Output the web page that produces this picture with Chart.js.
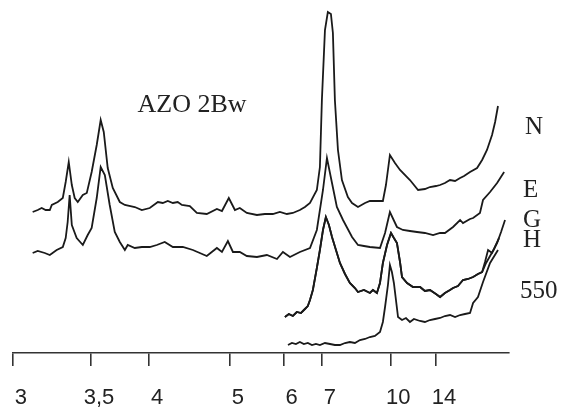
<!DOCTYPE html>
<html>
<head>
<meta charset="utf-8">
<title>AZO 2Bw</title>
<script src="https://cdn.jsdelivr.net/npm/chart.js@4/dist/chart.umd.min.js"></script>
<style>
  html, body { margin: 0; padding: 0; background: #fff; }
  #wrap { width: 562px; height: 416px; position: relative; }
</style>
</head>
<body>
<div id="wrap"><canvas id="xrd"></canvas></div>
<script>
// sample + trace names (right hand labels)
const sampleName = "AZO 2Bw";
const seriesNames = ["N", "E", "G", "H", "550"];

// d-spacing ticks (Angstrom) shown under the axis, Cu K-alpha
const dTicks = [3, 3.5, 4, 5, 6, 7, 10, 14];
const dLabels = ["3", "3,5", "4", "5", "6", "7", "10", "14"];
const wavelength = 1.5406;

// traces: [2theta, counts] (offset, stacked)
const traceN = [
  [28.66, 141], [28.38, 143], [28.16, 145], [27.94, 143], [27.71, 143], [27.60, 148], [27.27, 151],
  [26.99, 155], [26.83, 171], [26.66, 191], [26.49, 168], [26.33, 155], [26.16, 151], [25.88, 158],
  [25.66, 160], [25.39, 181], [25.11, 208], [24.89, 233], [24.72, 221], [24.50, 185], [24.22, 165],
  [23.83, 151], [23.55, 148], [23.00, 146], [22.61, 143], [22.17, 145], [21.72, 151], [21.45, 150],
  [21.17, 152], [20.89, 150], [20.62, 151], [20.39, 148], [19.95, 147], [19.56, 140], [19.01, 139],
  [18.45, 144], [18.17, 142], [17.79, 155], [17.45, 143], [17.18, 145], [16.79, 140], [16.23, 138],
  [15.79, 139], [15.35, 139], [14.96, 141], [14.57, 139], [14.24, 140], [13.85, 143], [13.57, 146],
  [13.29, 150], [12.91, 163], [12.74, 186], [12.63, 253], [12.46, 323], [12.30, 341], [12.13, 339],
  [12.02, 320], [11.91, 253], [11.74, 203], [11.52, 173], [11.19, 156], [10.96, 150], [10.63, 146],
  [10.24, 150], [9.97, 152], [9.52, 152], [9.25, 152], [9.08, 168], [8.86, 198], [8.58, 190],
  [8.30, 183], [7.75, 173], [7.30, 163], [6.92, 164], [6.64, 166], [6.31, 167], [6.08, 168],
  [5.81, 170], [5.53, 173], [5.25, 172], [4.97, 175], [4.75, 177], [4.42, 181], [4.03, 185],
  [3.75, 193], [3.48, 203], [3.20, 218], [3.03, 231], [2.87, 247]
];
const traceE = [
  [28.66, 100], [28.38, 102], [27.99, 100], [27.71, 98], [27.33, 103], [26.99, 106], [26.83, 115],
  [26.72, 131], [26.61, 158], [26.49, 128], [26.22, 115], [25.88, 108], [25.61, 118], [25.39, 125],
  [25.11, 155], [24.89, 186], [24.66, 178], [24.39, 148], [24.11, 121], [23.83, 111], [23.55, 103],
  [23.39, 108], [23.00, 105], [22.61, 106], [22.17, 106], [21.78, 108], [21.34, 111], [20.89, 106],
  [20.34, 106], [19.78, 103], [19.01, 97], [18.45, 105], [18.17, 101], [17.84, 112], [17.56, 101],
  [17.18, 101], [16.79, 97], [16.23, 96], [15.68, 98], [15.12, 94], [14.79, 101], [14.40, 96],
  [13.85, 101], [13.29, 105], [12.91, 123], [12.57, 163], [12.35, 195], [12.07, 170], [11.80, 146],
  [11.46, 133], [10.96, 116], [10.63, 108], [10.30, 107], [9.97, 106], [9.41, 105], [9.13, 120],
  [8.86, 141], [8.47, 126], [8.14, 123], [7.75, 122], [7.36, 121], [6.92, 120], [6.47, 118],
  [6.08, 120], [5.81, 120], [5.36, 126], [4.97, 133], [4.81, 130], [4.42, 134], [4.25, 135],
  [3.87, 140], [3.70, 153], [3.31, 161], [2.92, 170], [2.53, 181]
];
const traceG = [
  [14.68, 36], [14.46, 39], [14.24, 37], [14.02, 41], [13.79, 40], [13.57, 44], [13.41, 47],
  [13.29, 53], [13.13, 63], [12.91, 85], [12.74, 103], [12.57, 123], [12.41, 136], [12.24, 128],
  [12.07, 116], [11.85, 103], [11.63, 90], [11.35, 79], [11.08, 70], [10.80, 65], [10.63, 61],
  [10.30, 63], [9.97, 60], [9.80, 63], [9.58, 60], [9.41, 70], [9.25, 90], [9.02, 108], [8.80, 120],
  [8.64, 115], [8.47, 110], [8.30, 91], [8.19, 76], [7.91, 70], [7.58, 66], [7.19, 66], [6.92, 62],
  [6.64, 63], [6.31, 59], [6.08, 56], [5.81, 60], [5.53, 63], [5.36, 65], [5.09, 67], [4.81, 73],
  [4.53, 74], [4.25, 76], [3.98, 79], [3.75, 81], [3.59, 91], [3.42, 103], [3.20, 100], [2.92, 110],
  [2.70, 121], [2.48, 133]
];
const traceH = [
  [14.68, 36], [14.46, 39], [14.24, 37], [14.02, 41], [13.79, 40], [13.57, 44], [13.41, 47],
  [13.29, 53], [13.13, 63], [12.91, 85], [12.74, 103], [12.57, 123], [12.41, 136], [12.24, 128],
  [12.07, 116], [11.85, 103], [11.63, 90], [11.35, 79], [11.08, 70], [10.80, 65], [10.63, 61],
  [10.30, 63], [9.97, 60], [9.80, 63], [9.58, 60], [9.41, 70], [9.25, 90], [9.02, 108], [8.80, 120],
  [8.64, 115], [8.47, 110], [8.30, 91], [8.19, 76], [7.91, 70], [7.58, 66], [7.19, 66], [6.92, 62],
  [6.64, 63], [6.31, 59], [6.08, 56], [5.81, 60], [5.53, 63], [5.36, 65], [5.09, 67], [4.81, 73],
  [4.53, 74], [4.25, 76], [3.98, 79], [3.75, 81], [3.53, 90], [3.31, 97], [3.09, 104], [2.81, 115]
];
const trace550 = [
  [14.51, 8], [14.29, 10], [14.07, 9], [13.85, 11], [13.63, 9], [13.41, 10], [13.18, 8], [12.96, 9],
  [12.74, 8], [12.46, 10], [12.18, 9], [11.91, 8], [11.63, 8], [11.35, 10], [11.08, 11], [10.80, 10],
  [10.52, 13], [10.24, 14], [9.97, 16], [9.69, 17], [9.41, 21], [9.25, 31], [9.13, 46], [8.97, 68],
  [8.86, 88], [8.75, 81], [8.64, 70], [8.41, 36], [8.19, 33], [7.97, 35], [7.75, 31], [7.53, 34],
  [7.19, 32], [6.92, 31], [6.64, 33], [6.36, 34], [6.08, 35], [5.81, 37], [5.53, 38], [5.25, 36],
  [4.97, 38], [4.70, 39], [4.42, 40], [4.25, 50], [3.98, 56], [3.70, 71], [3.31, 90], [2.87, 103]
];
const traces = [traceN, traceE, traceG, traceH, trace550];

// bragg: d -> 2theta (degrees)
function twoTheta(d) {
  return 2 * Math.asin(wavelength / (2 * d)) * 180 / Math.PI;
}
const tickAngles = dTicks.map(twoTheta);

const labelPlugin = {
  id: "traceLabels",
  afterDraw(chart) {
    const ctx = chart.ctx;
    const area = chart.chartArea;
    const nameY = [134, 197, 227, 247, 298];
    const nameDx = [16, 14, 14, 14, 11];
    ctx.save();
    ctx.fillStyle = "#222";
    ctx.textBaseline = "alphabetic";
    ctx.font = '26px "Liberation Serif", "Times New Roman", serif';
    ctx.textAlign = "center";
    ctx.fillText(sampleName, 192, 112);
    ctx.font = '25px "Liberation Serif", "Times New Roman", serif';
    ctx.textAlign = "left";
    seriesNames.forEach((name, i) => {
      ctx.fillText(name, area.right + nameDx[i], nameY[i]);
    });
    ctx.restore();
  }
};

const ctx = document.getElementById("xrd");
new Chart(ctx, {
  type: "line",
  data: {
    datasets: traces.map((t, i) => ({
      label: seriesNames[i],
      data: t.map(p => ({ x: p[0], y: p[1] })),
      borderColor: "#1a1a1a",
      borderWidth: 1.8,
      pointRadius: 0,
      tension: 0,
      fill: false,
      clip: false
    }))
  },
  options: {
    responsive: true,
    maintainAspectRatio: false,
    animation: false,
    devicePixelRatio: 1,
    layout: { padding: { top: 3, left: 13, right: 53, bottom: 0 } },
    plugins: { legend: { display: false }, tooltip: { enabled: false } },
    scales: {
      x: {
        type: "linear",
        reverse: true,
        min: 2.26,
        max: 29.75,
        afterBuildTicks: (scale) => {
          scale.ticks = tickAngles.map(a => ({ value: a }));
        },
        afterFit: (scale) => {
          scale.height = 63;
          // labels sit to the right of their ticks, no extra edge room needed
          scale.paddingLeft = 0;
          scale.paddingRight = 0;
        },
        border: { display: true, color: "#333", width: 1.6 },
        grid: { drawOnChartArea: false, drawTicks: true, tickLength: 13, color: "#333", lineWidth: 1.6 },
        ticks: {
          autoSkip: false,
          maxRotation: 0,
          padding: 19,
          labelOffset: 8,
          color: "#222",
          font: { family: '"Liberation Sans", Arial, sans-serif', size: 22 },
          callback: (value) => {
            const i = tickAngles.findIndex(a => Math.abs(a - value) < 0.01);
            return i >= 0 ? dLabels[i] : "";
          }
        }
      },
      y: {
        display: false,
        min: 0,
        max: 350
      }
    }
  },
  plugins: [labelPlugin]
});
</script>
</body>
</html>
